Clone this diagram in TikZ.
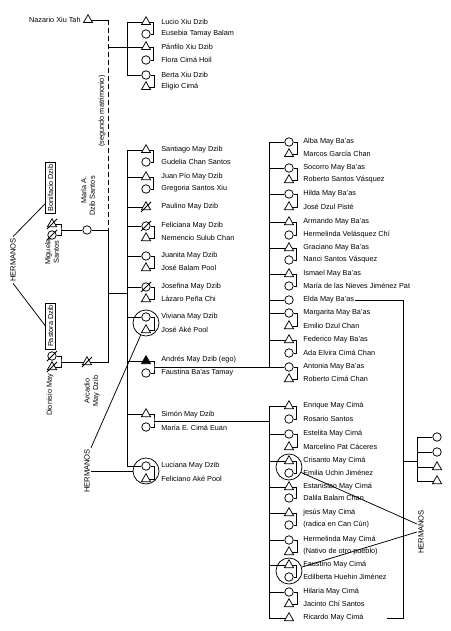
\documentclass[tikz,border=0pt]{standalone}
\usepackage{fontspec}
\setmainfont{Liberation Sans}
\usetikzlibrary{shapes.geometric, calc}

\begin{document}
\begin{tikzpicture}[
  x=1pt, y=-1pt,
  line width=0.75pt,
  font=\fontsize{7.3}{8.4}\selectfont,
  male/.style={regular polygon, regular polygon sides=3, draw, minimum size=10.5pt, inner sep=0pt},
  female/.style={circle, draw, minimum size=8.5pt, inner sep=0pt},
  dead/.style={append after command={($(\tikzlastnode.center)+(-5pt,-5pt)$) edge ($(\tikzlastnode.center)+(5pt,5pt)$)}},
  ego/.style={fill=black},
  nm/.style={anchor=west, inner sep=1pt},
  vlbl/.style={rotate=90, align=center, inner sep=1pt},
  sib/.style={rotate=90, inner sep=1pt, font=\fontsize{7.6}{9}\selectfont},
  namebox/.style={rotate=90, draw, inner sep=2pt},
  ring/.style={circle, draw, minimum size=26pt, inner sep=0pt},
  marr2/.style={dash pattern=on 5pt off 3pt}
]
\useasboundingbox (0,0) rectangle (450,631);

% ---------------------------------------------- Nazario and the Xiu children
\node[male] (nazario) at (88,20) {};
\node[nm, anchor=east] (nazarioN) at (82,20) {Nazario Xiu Tah};
\coordinate (nazJ)   at (108,20);
\coordinate (xiuJ)   at (108,47);
\coordinate (mariaJ) at (108,230);
\coordinate (mdJ)    at (108,293);
\coordinate (arcJ)   at (108,362);
\node[vlbl] (segundoN) at (102,111) {(segundo matrimonio)};

\node[male]   (lucio)   at (146,22) {};  \node[nm] (lucioN)   at (160,22) {Lucio Xiu Dzib};
\node[female] (eusebia) at (146,34) {};  \node[nm] (eusebiaN) at (160,34) {Eusebia Tamay Balam};
\node[male]   (panfilo) at (146,47) {};  \node[nm] (panfiloN) at (160,47) {Pánfilo Xiu Dzib};
\node[female] (flora)   at (146,60) {};  \node[nm] (floraN)   at (160,60) {Flora Cimá Hoil};
\node[female] (berta)   at (146,75) {};  \node[nm] (bertaN)   at (160,75) {Berta Xiu Dzib};
\node[male]   (eligio)  at (146,87) {};  \node[nm] (eligioN)  at (160,87) {Eligio Cimá};
\coordinate (xiuT) at (127,22);
\coordinate (xiuB) at (127,75);

\draw (nazario) -- (nazJ);
\draw[marr2] (nazJ) -- (mariaJ);
\draw (xiuJ) -- (panfilo);
\draw (lucio) -- (xiuT) -- (xiuB) -- (berta);
\draw (lucio.east)   -- ++(4,0) |- (eusebia.east);
\draw (panfilo.east) -- ++(4,0) |- (flora.east);
\draw (berta.east)   -- ++(4,0) |- (eligio.east);

% ---------------------------------------------- left: the parents' generation
\node[sib] (hermL1) at (13,260) {HERMANOS};
\node[namebox] (bonifacioN) at (50.5,188) {Bonifacio Dzib};
\node[namebox] (pastoraN)   at (50.5,326) {Pastora Dzib};
\draw (hermL1.east) -- ($(bonifacioN.north west)!0.2!(bonifacioN.north east)$);
\draw (hermL1.west) -- (pastoraN.north);

\node[male, dead]   (bonifacio) at (52,224) {};
\node[female, dead] (miguela)   at (52,235) {};
\node[vlbl] (miguelaN) at (52,252) {Miguela\\Santos};
\coordinate (migJ) at (61,230);
\draw (bonifacio.east) -| (migJ) |- (miguela.east);

\node[female] (maria) at (87,230) {};
\node[vlbl, align=right] (mariaN) at (88,196) {María A.\\Dzib Santos};
\draw (migJ) -- (maria);

\node[female, dead] (pastora)  at (52,356) {};
\node[male, dead]   (dionisio) at (52,367) {};
\node[vlbl] (dionisioN) at (50,395) {Dionisio May};
\coordinate (dioJ) at (61,362);
\draw (pastora.east) -| (dioJ) |- (dionisio.east);

\node[male, dead] (arcadio) at (87,362) {};
\node[vlbl] (arcadioN) at (92,391) {Arcadio\\May Dzib};
\draw (dioJ) -- (arcadio);

\draw (maria) -- (mariaJ) -- (arcJ) -- (arcadio);

% ---------------------------------------------- the May Dzib children
\node[male]   (santiago)  at (146,150) {}; \node[nm] (santiagoN)  at (160,150) {Santiago May Dzib};
\node[female] (gudelia)   at (146,162) {}; \node[nm] (gudeliaN)   at (160,162) {Gudelia Chan Santos};
\node[male]   (juanpio)   at (146,177) {}; \node[nm] (juanpioN)   at (160,177) {Juan Pío May Dzib};
\node[female] (gregoria)  at (146,189) {}; \node[nm] (gregoriaN)  at (160,189) {Gregoria Santos Xiu};
\node[male, dead]   (paulino)   at (146,207) {}; \node[nm] (paulinoN)   at (160,207) {Paulino May Dzib};
\node[female, dead] (feliciana) at (146,226) {}; \node[nm] (felicianaN) at (160,226) {Feliciana May Dzib};
\node[male]   (nemencio)  at (146,238) {}; \node[nm] (nemencioN)  at (160,238) {Nemencio Sulub Chan};
\node[female] (juanita)   at (146,256) {}; \node[nm] (juanitaN)   at (160,256) {Juanita May Dzib};
\node[male]   (balam)     at (146,268) {}; \node[nm] (balamN)     at (160,268) {José Balam Pool};
\node[female, dead] (josefina)  at (146,287) {}; \node[nm] (josefinaN)  at (160,287) {Josefina May Dzib};
\node[male]   (lazaro)    at (146,299) {}; \node[nm] (lazaroN)    at (160,299) {Lázaro Peña Chi};
\node[female] (viviana)   at (146,317) {}; \node[nm] (vivianaN)   at (160,317) {Viviana May Dzib};
\node[male]   (ake)       at (146,330) {}; \node[nm] (akeN)       at (160,330) {José Aké Pool};
\node[male, ego] (andres) at (146,361) {}; \node[nm] (andresN)    at (160,360) {Andrés May Dzib (ego)};
\node[female] (faustina)  at (146,373) {}; \node[nm] (faustinaN)  at (160,373) {Faustina Ba'as Tamay};
\node[male]   (simon)     at (146,414) {}; \node[nm] (simonN)     at (160,415) {Simón May Dzib};
\node[female] (mariae)    at (146,427) {}; \node[nm] (mariaeN)    at (160,428) {María E. Cimá Euan};
\node[female] (luciana)   at (146,466) {}; \node[nm] (lucianaN)   at (160,466) {Luciana May Dzib};
\node[male]   (feliciano) at (146,479) {}; \node[nm] (felicianoN) at (160,479) {Feliciano Aké Pool};
\node[ring] (vivring) at (146,323) {};
\node[ring] (lucring) at (146,471) {};

\coordinate (mdT) at (127,150);
\coordinate (mdB) at (127,466);
\draw (mdJ) -- (mdJ -| mdT);
\draw (santiago) -- (mdT) -- (mdB) -- (luciana);
\draw (juanpio)   -- (juanpio -| mdT);
\draw (paulino)   -- (paulino -| mdT);
\draw (feliciana) -- (feliciana -| mdT);
\draw (juanita)   -- (juanita -| mdT);
\draw (josefina)  -- (josefina -| mdT);
\draw (viviana)   -- (viviana -| mdT);
\draw (andres)    -- (andres -| mdT);
\draw (simon)     -- (simon -| mdT);

\draw (santiago.east)  -- ++(4,0) |- (gudelia.east);
\draw (juanpio.east)   -- ++(4,0) |- (gregoria.east);
\draw (feliciana.east) -- ++(4,0) |- (nemencio.east);
\draw (juanita.east)   -- ++(4,0) |- (balam.east);
\draw (josefina.east)  -- ++(4,0) |- (lazaro.east);
\draw (viviana.east)   -- ++(4,0) |- (ake.east);
\draw (luciana.east)   -- ++(4,0) |- (feliciano.east);
\coordinate (egoJ) at (154,367);
\coordinate (simJ) at (154,421);
\draw (andres.east) -| (egoJ) |- (faustina.east);
\draw (simon.east)  -| (simJ) |- (mariae.east);

\node[sib] (hermL2) at (87,471) {HERMANOS};
\draw (hermL2.south) -- (lucring);
\draw (hermL2.south east) -- (vivring);

% ---------------------------------------------- the May Ba'as children
\node[female] (alba)      at (289,142) {}; \node[nm] (albaN)      at (302,142) {Alba May Ba'as};
\node[male]   (marcos)    at (289,154) {}; \node[nm] (marcosN)    at (302,154) {Marcos García Chan};
\node[female] (socorro)   at (289,168) {}; \node[nm] (socorroN)   at (302,168) {Socorro May Ba'as};
\node[male]   (robertos)  at (289,180) {}; \node[nm] (robertosN)  at (302,180) {Roberto Santos Vásquez};
\node[female] (hilda)     at (289,194) {}; \node[nm] (hildaN)     at (302,194) {Hilda May Ba'as};
\node[male]   (dzul)      at (289,207) {}; \node[nm] (dzulN)      at (302,207) {José Dzul Pisté};
\node[male]   (armando)   at (289,222) {}; \node[nm] (armandoN)   at (302,222) {Armando May Ba'as};
\node[female] (velasquez) at (289,235) {}; \node[nm] (velasquezN) at (302,235) {Hermelinda Velásquez Chí};
\node[male]   (graciano)  at (289,248) {}; \node[nm] (gracianoN)  at (302,248) {Graciano May Ba'as};
\node[female] (nanci)     at (289,260) {}; \node[nm] (nanciN)     at (302,260) {Nanci Santos Vásquez};
\node[male]   (ismael)    at (289,274) {}; \node[nm] (ismaelN)    at (302,274) {Ismael May Ba'as};
\node[female] (nieves)    at (289,286) {}; \node[nm] (nievesN)    at (302,286) {María de las Nieves Jiménez Pat};
\node[female] (elda)      at (289,300) {}; \node[nm] (eldaN)      at (302,300) {Elda May Ba'as};
\node[female] (margarita) at (289,313) {}; \node[nm] (margaritaN) at (302,313) {Margarita May Ba'as};
\node[male]   (emilio)    at (289,326) {}; \node[nm] (emilioN)    at (302,326) {Emilio Dzul Chan};
\node[male]   (federico)  at (289,340) {}; \node[nm] (federicoN)  at (302,340) {Federico May Ba'as};
\node[female] (ada)       at (289,353) {}; \node[nm] (adaN)       at (302,353) {Ada Elvira Cimá Chan};
\node[female] (antonia)   at (289,367) {}; \node[nm] (antoniaN)   at (302,367) {Antonia May Ba'as};
\node[male]   (robertoc)  at (289,379) {}; \node[nm] (robertocN)  at (302,379) {Roberto Cimá Chan};

\coordinate (baT) at (269,142);
\coordinate (baB) at (269,367);
\draw (egoJ) -- (antonia);
\draw (alba) -- (baT) -- (baB);
\draw (socorro)   -- (socorro -| baT);
\draw (hilda)     -- (hilda -| baT);
\draw (armando)   -- (armando -| baT);
\draw (graciano)  -- (graciano -| baT);
\draw (ismael)    -- (ismael -| baT);
\draw (elda)      -- (elda -| baT);
\draw (margarita) -- (margarita -| baT);
\draw (federico)  -- (federico -| baT);

\draw (alba.east)      -- ++(4,0) |- (marcos.east);
\draw (socorro.east)   -- ++(4,0) |- (robertos.east);
\draw (hilda.east)     -- ++(4,0) |- (dzul.east);
\draw (armando.east)   -- ++(4,0) |- (velasquez.east);
\draw (graciano.east)  -- ++(4,0) |- (nanci.east);
\draw (ismael.east)    -- ++(4,0) |- (nieves.east);
\draw (margarita.east) -- ++(4,0) |- (emilio.east);
\draw (federico.east)  -- ++(4,0) |- (ada.east);
\draw (antonia.east)   -- ++(4,0) |- (robertoc.east);

% ---------------------------------------------- the May Cimá children
\node[male]   (enrique)    at (289,406) {}; \node[nm] (enriqueN)    at (302,406) {Enrique May Cimá};
\node[female] (rosario)    at (289,419) {}; \node[nm] (rosarioN)    at (302,419) {Rosario Santos};
\node[female] (estelita)   at (289,434) {}; \node[nm] (estelitaN)   at (302,434) {Estelita May Cimá};
\node[male]   (marcelino)  at (289,447) {}; \node[nm] (marcelinoN)  at (302,447) {Marcelino Pat Cáceres};
\node[male]   (crisanto)   at (289,461) {}; \node[nm] (crisantoN)   at (302,461) {Crisanto May Cimá};
\node[female] (emilia)     at (289,473) {}; \node[nm] (emiliaN)     at (302,473) {Emilia Uchin Jiménez};
\node[male]   (estanislao) at (289,487) {}; \node[nm] (estanislaoN) at (302,487) {Estanislao May Cimá};
\node[female] (dalila)     at (289,498) {}; \node[nm] (dalilaN)     at (302,498) {Dalila Balam Chan};
\node[male]   (jesus)      at (289,513) {}; \node[nm] (jesusN)      at (302,513) {jesús May Cimá};
\node[female] (cancun)     at (289,525) {}; \node[nm] (cancunN)     at (302,525) {(radica en Can Cún)};
\node[female] (hermelinda) at (289,540) {}; \node[nm] (hermelindaN) at (302,540) {Hermelinda May Cimá};
\node[male]   (nativo)     at (289,552) {}; \node[nm] (nativoN)     at (302,552) {(Nativo de otro pueblo)};
\node[male]   (faustino)   at (289,565) {}; \node[nm] (faustinoN)   at (302,565) {Faustino May Cimá};
\node[female] (edilberta)  at (289,577) {}; \node[nm] (edilbertaN)  at (302,577) {Edilberta Huehin Jiménez};
\node[female] (hilaria)    at (289,592) {}; \node[nm] (hilariaN)    at (302,592) {Hilaria May Cimá};
\node[male]   (jacinto)    at (289,604) {}; \node[nm] (jacintoN)    at (302,604) {Jacinto Chí Santos};
\node[male]   (ricardo)    at (289,618) {}; \node[nm] (ricardoN)    at (302,618) {Ricardo May Cimá};
\node[ring] (crisring) at (289,467) {};
\node[ring] (fausring) at (289,571) {};

\coordinate (ciT) at (269,406);
\coordinate (ciB) at (269,618);
\draw (simJ) -- (simJ -| ciT);
\draw (enrique) -- (ciT) -- (ciB) -- (ricardo);
\draw (estelita)   -- (estelita -| ciT);
\draw (crisanto)   -- (crisanto -| ciT);
\draw (estanislao) -- (estanislao -| ciT);
\draw (jesus)      -- (jesus -| ciT);
\draw (hermelinda) -- (hermelinda -| ciT);
\draw (faustino)   -- (faustino -| ciT);
\draw (hilaria)    -- (hilaria -| ciT);

\draw (enrique.east)    -- ++(4,0) |- (rosario.east);
\draw (estelita.east)   -- ++(4,0) |- (marcelino.east);
\draw (crisanto.east)   -- ++(4,0) |- (emilia.east);
\draw (estanislao.east) -- ++(4,0) |- (dalila.east);
\draw (jesus.east)      -- ++(4,0) |- (cancun.east);
\draw (hermelinda.east) -- ++(4,0) |- (nativo.east);
\draw (faustino.east)   -- ++(4,0) |- (edilberta.east);
\draw (hilaria.east)    -- ++(4,0) |- (jacinto.east);

% ---------------------------------------------- right: Elda, Ricardo and their siblings
\coordinate (eldaR) at (403,300);
\coordinate (ricR)  at (403,618);
\coordinate (ricL)  at (387,618);
\draw (eldaN.east) -- (eldaR) -- (ricR) -- (ricL);

\node[female] (sib1) at (437,437) {};
\node[female] (sib2) at (437,452) {};
\node[male]   (sib3) at (437,467) {};
\node[male]   (sib4) at (437,481) {};
\coordinate (sibJ) at (403,461);
\coordinate (sibT) at (417,437);
\coordinate (sibB) at (417,481);
\draw (sibJ) -- (sibJ -| sibT);
\draw (sib1) -- (sibT) -- (sibB) -- (sib4);
\draw (sib2) -- (sib2 -| sibT);
\draw (sib3) -- (sib3 -| sibT);

\node[sib] (hermR) at (421,532) {HERMANOS};
\draw (crisring) -- ($(hermR.north)+(0,-8)$);
\draw (fausring) -- (hermR.north);

\end{tikzpicture}
\end{document}
